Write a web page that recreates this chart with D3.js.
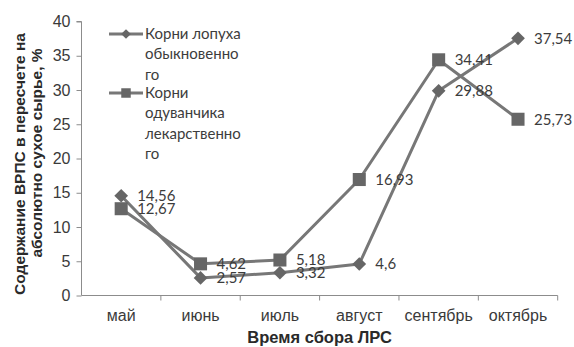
<!DOCTYPE html>
<html>
<head>
<meta charset="utf-8">
<script src="https://cdn.jsdelivr.net/npm/d3@7"></script>
<style>
  body { margin: 0; background: #fff; }
  svg { display: block; }
</style>
</head>
<body>
<svg id="chart" width="574" height="347"></svg>
<script>
// Months of raw material collection
const months = ["май", "июнь", "июль", "август", "сентябрь", "октябрь"];
// Content of water-soluble polysaccharides, % (absolutely dry raw material)
const burdock = [14.56, 2.57, 3.32, 4.6, 29.88, 37.54];
const dandelion = [12.67, 4.62, 5.18, 16.93, 34.41, 25.73];
const yTicks = [0, 5, 10, 15, 20, 25, 30, 35, 40];
const seriesNames = [
  ["Корни лопуха", "обыкновенно", "го"],
  ["Корни", "одуванчика", "лекарственно", "го"]
];

const svg = d3.select("#chart");
const plot = { left: 81.5, right: 557.7, top: 21.5, bottom: 295.5 };

const x = d3.scaleBand().domain(months).range([plot.left, plot.right]);
const y = d3.scaleLinear().domain([0, 40]).range([plot.bottom, plot.top]);

const axisColor = "#8c8c8c";
const lineColor = "#777777";
const markColor = "#666666";
const labelFont = "Lato, 'Open Sans', sans-serif";
const axisFont = "'Liberation Sans', Arial, sans-serif";

// Y axis
const yAxis = svg.append("g")
  .attr("transform", `translate(${plot.left},0)`)
  .call(d3.axisLeft(y).tickValues(yTicks).tickSize(5).tickPadding(6).tickFormat(d3.format("d")));
yAxis.select(".domain").attr("stroke", axisColor).attr("d", `M-5,${y(40)}H0V${plot.bottom}`);
yAxis.selectAll(".tick line").attr("stroke", axisColor);
yAxis.selectAll(".tick text").attr("fill", "#3a3a3a").style("font-family", axisFont).style("font-size", "16px");

// X axis with tick marks between categories
const xAxis = svg.append("g")
  .attr("transform", `translate(0,${plot.bottom})`)
  .call(d3.axisBottom(x).tickSize(0).tickPadding(14));
xAxis.select(".domain").attr("stroke", axisColor).attr("d", `M${plot.left},0H${plot.right}V5`);
xAxis.selectAll(".tick text").attr("fill", "#3a3a3a").style("font-family", axisFont).style("font-size", "16px");
xAxis.selectAll(".sep")
  .data(months.slice(1))
  .join("line")
  .attr("x1", d => x(d)).attr("x2", d => x(d))
  .attr("y1", 0).attr("y2", 5)
  .attr("stroke", axisColor);

// Axis titles
svg.append("text")
  .attr("x", (plot.left + plot.right) / 2).attr("y", 338.5)
  .attr("text-anchor", "middle").attr("dominant-baseline", "middle")
  .style("font-family", axisFont).style("font-size", "16.5px").style("font-weight", "bold")
  .attr("fill", "#2a2a2a")
  .text("Время сбора ЛРС");

const yTitle = [
  { text: "Содержание ВРПС в пересчете на", cx: 21, cy: 164 },
  { text: "абсолютно сухое сырье, %", cx: 38, cy: 153 }
];
svg.selectAll(".ytitle")
  .data(yTitle)
  .join("text")
  .attr("transform", d => `translate(${d.cx},${d.cy}) rotate(-90)`)
  .attr("text-anchor", "middle").attr("dominant-baseline", "middle")
  .style("font-family", axisFont).style("font-size", "15.5px").style("font-weight", "bold")
  .attr("fill", "#2a2a2a")
  .text(d => d.text);

const line = d3.line()
  .x((d, i) => x(months[i]) + x.bandwidth() / 2)
  .y(d => y(d));

const diamond = d3.symbol().type(d3.symbolDiamond2).size(120);
const square = d3.symbol().type(d3.symbolSquare).size(170);

const series = [
  { values: burdock, sym: diamond },
  { values: dandelion, sym: square }
];

series.forEach(s => {
  svg.append("path")
    .attr("d", line(s.values))
    .attr("fill", "none")
    .attr("stroke", lineColor)
    .attr("stroke-width", 3)
    .attr("stroke-linejoin", "round");
  svg.append("g").selectAll("path")
    .data(s.values)
    .join("path")
    .attr("transform", (d, i) => `translate(${x(months[i]) + x.bandwidth() / 2},${y(d)})`)
    .attr("d", s.sym())
    .attr("fill", markColor);
});

// Data labels to the right of each marker
series.forEach(s => {
  svg.append("g").selectAll("text")
    .data(s.values)
    .join("text")
    .attr("x", (d, i) => x(months[i]) + x.bandwidth() / 2 + 16)
    .attr("y", d => y(d) + 1.5)
    .attr("dominant-baseline", "middle")
    .style("font-family", labelFont).style("font-size", "15px")
    .attr("fill", "#3c3c3c")
    .text(d => String(d).replace(".", ","));
});

// Legend
const legendRows = [34, 93];
const legendGroup = svg.append("g");
series.forEach((s, k) => {
  const ly = legendRows[k];
  legendGroup.append("line")
    .attr("x1", 109).attr("x2", 143).attr("y1", ly).attr("y2", ly)
    .attr("stroke", lineColor).attr("stroke-width", 3);
  legendGroup.append("path")
    .attr("transform", `translate(126,${ly})`)
    .attr("d", k === 0 ? d3.symbol().type(d3.symbolDiamond2).size(60)() : d3.symbol().type(d3.symbolSquare).size(90)())
    .attr("fill", markColor);
  legendGroup.append("g").selectAll("text")
    .data(seriesNames[k])
    .join("text")
    .attr("x", 145)
    .attr("y", (d, i) => ly + 1 + i * 20.5)
    .attr("dominant-baseline", "middle")
    .style("font-family", labelFont).style("font-size", "15px")
    .attr("fill", "#3c3c3c")
    .text(d => d);
});
</script>
</body>
</html>
